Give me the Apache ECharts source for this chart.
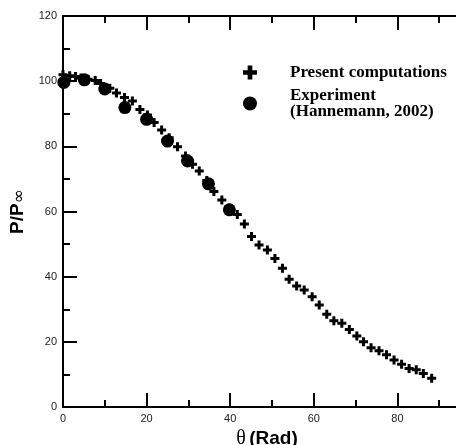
<!DOCTYPE html>
<html>
<head>
<meta charset="utf-8">
<script src="https://cdn.jsdelivr.net/npm/echarts@6/dist/echarts.min.js"></script>
<style>
  html, body { margin: 0; padding: 0; background: #fff; }
  #chart { width: 456px; height: 445px; }
</style>
</head>
<body>
<div id="chart"></div>
<script>
// present computations (theta in deg, P/Pinf)
const compTheta = [0, 1.6, 3.0, 4.3, 6.0, 7.7, 9.0, 11.2, 12.8, 14.7, 16.6, 18.4, 20.2, 21.8, 23.6, 25.4,
  27.4, 29.3, 31.0, 32.6, 34.4, 36.1, 38.0, 39.8, 41.7, 43.4, 45.1, 46.9, 48.9, 50.7, 52.5, 54.1,
  55.9, 57.7, 59.6, 61.3, 63.1, 64.8, 66.7, 68.5, 70.3, 71.9, 73.7, 75.6, 77.4, 79.2, 81.0, 82.8,
  84.5, 86.2, 88.2];
const compP = [102.0, 101.7, 101.4, 101.0, 100.6, 100.2, 99.3, 97.8, 96.4, 95.0, 93.9, 91.3, 89.6, 87.3, 85.0, 82.6,
  79.9, 77.0, 74.5, 72.4, 69.5, 66.1, 63.5, 61.0, 59.1, 56.2, 52.3, 49.7, 48.2, 45.6, 42.6, 39.2,
  37.1, 35.9, 33.8, 31.3, 28.5, 26.5, 25.7, 23.8, 21.8, 20.0, 18.2, 17.3, 16.0, 14.4, 13.1, 11.8,
  11.4, 10.3, 8.8];

// experiment (Hannemann, 2002)
const expTheta = [0.2, 5.1, 10.0, 14.8, 20.0, 25.0, 29.8, 34.8, 39.8];
const expP = [99.6, 100.4, 97.6, 91.9, 88.3, 81.6, 75.5, 68.5, 60.5];

const xTicks = { min: 0, max: 100, interval: 20 };
const yTicks = { min: 0, max: 120, interval: 20 };

const plus = 'path://M3,0H6V3H9V6H6V9H3V6H0V3H3Z';

let myChart = echarts.init(document.getElementById('chart'), null, { renderer: 'canvas' });

let axisCommon = {
  type: 'value',
  splitLine: { show: false },
  axisLine: { show: true, onZero: false, lineStyle: { color: '#000', width: 2 } },
  axisTick: { show: true, inside: true, length: 14, lineStyle: { color: '#000', width: 2 } },
  minorTick: { show: true, splitNumber: 2, length: 7, lineStyle: { color: '#000', width: 2 } },
  axisLabel: { color: '#222', fontSize: 11, fontFamily: 'Liberation Sans', margin: 6 },
};

let option = {
  backgroundColor: '#fff',
  animation: false,
  grid: { left: 63, right: -25, top: 16, bottom: 38, outerBoundsMode: 'none' },
  legend: {
    orient: 'vertical',
    left: 243,
    top: 64,
    padding: 0,
    itemWidth: 14,
    itemHeight: 14,
    itemGap: 6,
    data: [
      { name: 'Present computations', icon: plus },
      { name: 'Experiment\n(Hannemann, 2002)', icon: 'circle' },
    ],
    textStyle: {
      fontFamily: 'Liberation Serif',
      fontWeight: 'bold',
      fontSize: 17,
      lineHeight: 16,
      color: '#000',
      padding: [0, 0, 0, 28],
    },
  },
  xAxis: [
    Object.assign({}, axisCommon, {
      position: 'bottom',
      min: xTicks.min, max: xTicks.max, interval: xTicks.interval,
      name: '{t|θ} {b|(Rad)}',
      nameLocation: 'middle',
      nameGap: 19,
      nameTextStyle: {
        padding: [0, 10, 0, 0],
        rich: {
          t: { fontFamily: 'Liberation Serif', fontSize: 20, color: '#000' },
          b: { fontFamily: 'Liberation Sans', fontWeight: 'bold', fontSize: 19, color: '#000' },
        },
      },
    }),
    Object.assign({}, axisCommon, {
      position: 'top',
      min: xTicks.min, max: xTicks.max, interval: xTicks.interval,
      axisLabel: { show: false },
    }),
  ],
  yAxis: [
    Object.assign({}, axisCommon, {
      position: 'left',
      min: yTicks.min, max: yTicks.max, interval: yTicks.interval,
      name: '{a|P/P}{b|∞}',
      nameLocation: 'middle',
      nameGap: 35,
      nameRotate: 90,
      nameTextStyle: {
        rich: {
          a: { fontFamily: 'Liberation Sans', fontWeight: 'bold', fontSize: 19, color: '#000' },
          b: { fontFamily: 'DejaVu Sans', fontSize: 17, color: '#000', padding: [3, 0, 0, 0] },
        },
      },
    }),
  ],
  series: [
    {
      name: 'Present computations',
      type: 'scatter',
      symbol: plus,
      symbolSize: 9,
      z: 3,
      itemStyle: { color: '#000', opacity: 1 },
      data: compTheta.map((t, i) => [t, compP[i]]),
    },
    {
      name: 'Experiment\n(Hannemann, 2002)',
      type: 'scatter',
      symbol: 'circle',
      symbolSize: 13,
      z: 2,
      itemStyle: { color: '#000', opacity: 1 },
      data: expTheta.map((t, i) => [t, expP[i]]),
    },
  ],
};
myChart.setOption(option);
</script>
</body>
</html>
